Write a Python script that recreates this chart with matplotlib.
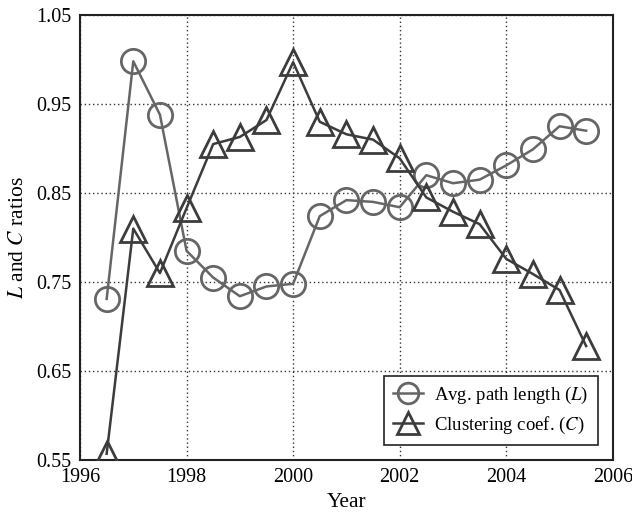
import numpy as np
import matplotlib
matplotlib.use("Agg")
import matplotlib.pyplot as plt

plt.rcParams['font.family'] = ['Liberation Serif', 'DejaVu Serif']
plt.rcParams['mathtext.fontset'] = 'stix'

years = [1996.5, 1997, 1997.5, 1998, 1998.5, 1999, 1999.5, 2000, 2000.5, 2001,
         2001.5, 2002, 2002.5, 2003, 2003.5, 2004, 2004.5, 2005, 2005.5]
path_len = [0.731, 0.998, 0.938, 0.785, 0.755, 0.734, 0.745, 0.748, 0.824, 0.842,
            0.840, 0.834, 0.870, 0.861, 0.865, 0.881, 0.899, 0.925, 0.920]
clust = [0.557, 0.810, 0.760, 0.833, 0.905, 0.913, 0.932, 0.997, 0.930, 0.916,
         0.910, 0.889, 0.845, 0.829, 0.815, 0.776, 0.759, 0.741, 0.678]
xticks = [1996, 1998, 2000, 2002, 2004, 2006]
yticks = [0.55, 0.65, 0.75, 0.85, 0.95, 1.05]

fig = plt.figure(figsize=(6.32, 5.18), dpi=100)
ax = fig.add_axes([0.1266, 0.112, 0.843, 0.859])

ax.plot(years, path_len, color='#666666', lw=1.8, marker='o', ms=17.5,
        mfc='none', mew=2, label='Avg. path length ($L$)', zorder=3)
ax.plot(years, clust, color='#3c3c3c', lw=1.8, marker='^', ms=19,
        mfc='none', mew=2, label='Clustering coef. ($C$)', zorder=3)

ax.set_xlim(1996, 2006)
ax.set_ylim(0.55, 1.05)
ax.set_xticks(xticks)
ax.set_yticks(yticks)
ax.set_yticklabels(['%.2f' % v for v in yticks])
ax.tick_params(labelsize=14.5, length=0, pad=6)
ax.grid(True, color='#333333', lw=1, dashes=(1, 2))
for s in ax.spines.values():
    s.set_linewidth(1.5)
    s.set_color('#222222')

ax.set_xlabel('Year', fontsize=15.5, labelpad=4)
ax.set_ylabel('$L$ and $C$ ratios', fontsize=15.5, labelpad=6)

leg = ax.legend(loc='lower right', fontsize=13.5, fancybox=False, framealpha=1,
                edgecolor='#222222', borderaxespad=0.8, handlelength=1.6,
                handletextpad=0.6, markerscale=0.85, borderpad=0.5,
                labelspacing=0.45)
leg.get_frame().set_linewidth(1.2)

fig.savefig('out.png', dpi=100)
